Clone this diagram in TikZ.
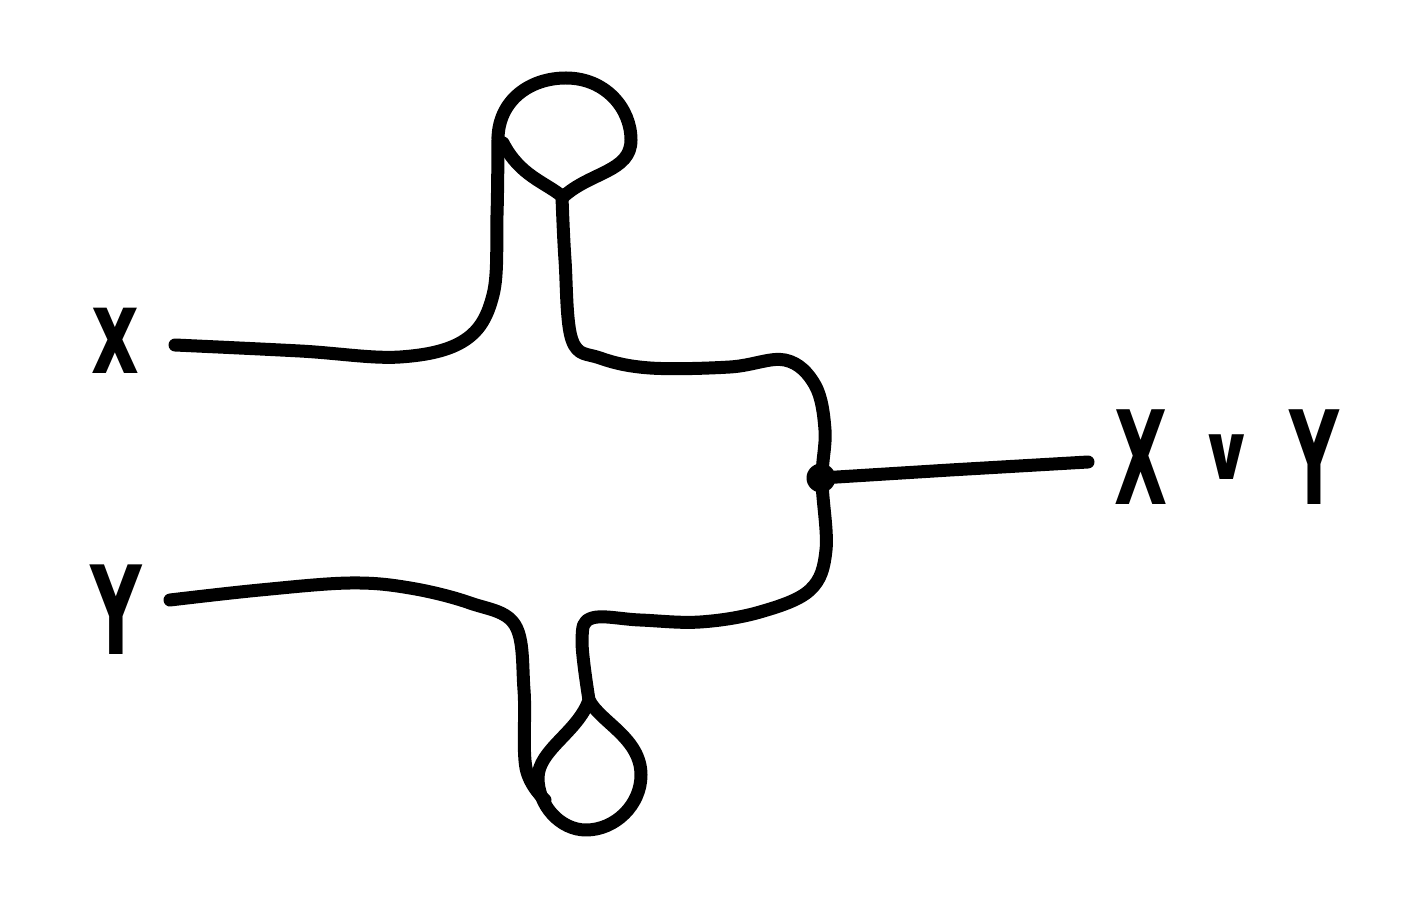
\documentclass[tikz,border=0pt]{standalone}
\usepackage{fontspec}
\setmainfont{DejaVu Sans}
\begin{document}
\begin{tikzpicture}[x=0.02cm,y=-0.02cm,
  ink/.style={line width=0.26cm,line cap=round,line join=round,black},
  lbl/.style={inner sep=0pt,black}]
\useasboundingbox (0,0) rectangle (1423,908);
\node[lbl,xscale=.62,font=\bfseries\fontsize{68}{68}\selectfont,anchor=base] (x) at (115,374) {x};
\node[lbl,xscale=.58,font=\bfseries\fontsize{70}{70}\selectfont,anchor=base] (y) at (116,654) {Y};
\node[lbl,xscale=.53,font=\bfseries\fontsize{74}{74}\selectfont,anchor=base west] (out) at (1114,504) {X\hspace{34pt}\raisebox{14pt}{\scalebox{1.7}[1]{\fontsize{44}{44}\selectfont ∨}}\hspace{36pt}Y};
\coordinate (dot) at (821,478);
% top loop and upper wire
\draw[ink] plot[smooth,tension=.6] coordinates {(175,345) (300,351) (400,357) (465,340) (493,295) (497,215) (498,138)};
\draw[ink] (498,138) .. controls (499,100) and (530,78) .. (566,78) .. controls (605,78) and (631,108) .. (631,140) .. controls (631,172) and (590,172) .. (563,197) .. controls (545,182) and (520,176) .. (503,143);
\draw[ink] plot[smooth,tension=.6] coordinates {(562,197) (565,260) (572,340) (600,358) (650,368) (730,367) (785,360) (815,385) (825,430) (822,480) (826,550) (810,590) (760,612) (700,622) (640,620) (592,618) (582,640) (589,700)};
% bottom loop and lower wire
\draw[ink] (589,700) .. controls (600,722) and (641,738) .. (641,775) .. controls (641,805) and (615,830) .. (586,830) .. controls (560,830) and (538,805) .. (538,778) .. controls (538,750) and (578,732) .. (589,700);
\draw[ink] plot[smooth,tension=.6] coordinates {(170,600) (260,590) (350,583) (410,588) (470,603) (515,625) (524,690) (526,768) (545,800)};
% junction and output
\fill[black] (dot) circle[radius=0.29cm];
\draw[ink] (dot) -- (950,470) -- (1088,462);
\end{tikzpicture}
\end{document}
